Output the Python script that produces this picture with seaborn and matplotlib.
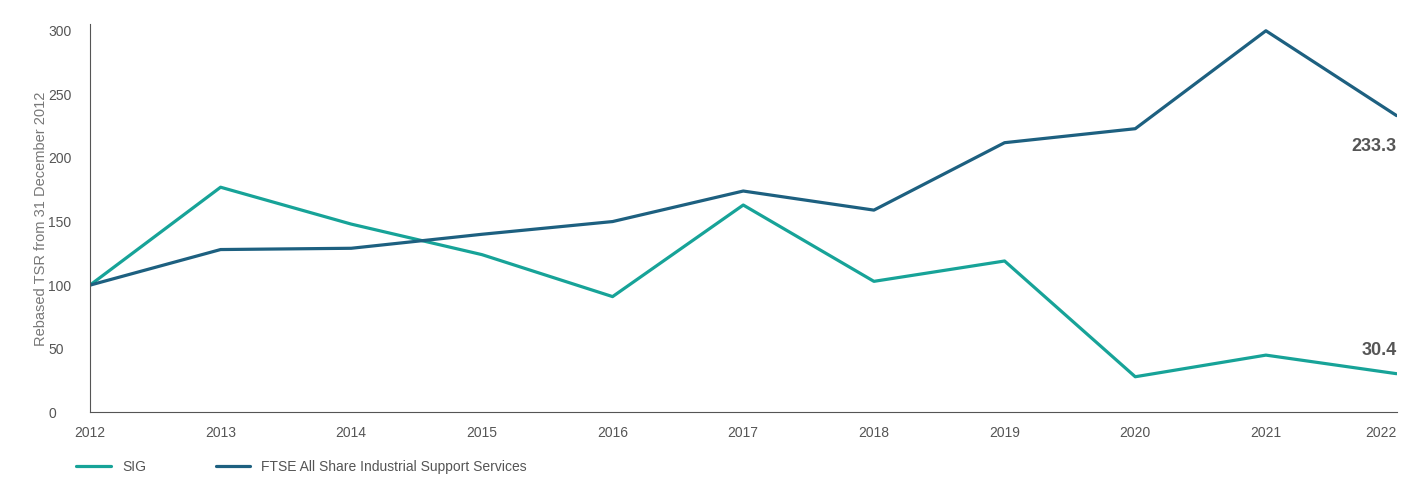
import pandas as pd
import matplotlib.pyplot as plt
import seaborn as sns

years = list(range(2012, 2023))
sig = [100, 177, 148, 124, 91, 163, 103, 119, 28, 45, 30.4]
ftse = [100, 128, 129, 140, 150, 174, 159, 212, 223, 300, 233.3]

df = pd.DataFrame({"year": years * 2, "value": sig + ftse,
                   "series": ["SIG"] * 11 + ["FTSE All Share Industrial Support Services"] * 11})

sns.set_style("white")
plt.rcParams['font.family'] = ['Liberation Sans', 'DejaVu Sans']
fig, ax = plt.subplots(figsize=(14.05, 4.88), dpi=100)
sns.lineplot(data=df, x="year", y="value", hue="series",
             palette=["#17a398", "#1d6080"], linewidth=2.3, ax=ax, legend=True)

ax.set_xlim(2012, 2022)
ax.set_ylim(0, 305)
ax.set_xticks(years)
ax.set_yticks(range(0, 301, 50))
ax.tick_params(colors="#555555", labelsize=10, length=0)
ax.tick_params(axis="x", pad=10)
ax.tick_params(axis="y", pad=30)
for lbl in ax.get_yticklabels():
    lbl.set_horizontalalignment("left")
ax.get_xticklabels()[-1].set_horizontalalignment("right")
ax.set_xlabel("")
ax.set_ylabel("Rebased TSR from 31 December 2012", color="#777777", fontsize=10.5, labelpad=0)
for s in ["top", "right"]:
    ax.spines[s].set_visible(False)
for s in ["left", "bottom"]:
    ax.spines[s].set_color("#555555")
    ax.spines[s].set_linewidth(0.8)

ax.text(2022, ftse[-1] - 28, "233.3", ha="right", fontsize=13, fontweight="bold", color="#555555")
ax.text(2022, sig[-1] + 15, "30.4", ha="right", fontsize=13, fontweight="bold", color="#555555")

ax.legend(loc="upper left", bbox_to_anchor=(-0.02, -0.09), ncol=2, frameon=False,
          fontsize=10, handlelength=2.5, columnspacing=5, labelcolor="#555555")

plt.subplots_adjust(left=0.064, right=0.994, top=0.95, bottom=0.155)
plt.savefig("out.png")
